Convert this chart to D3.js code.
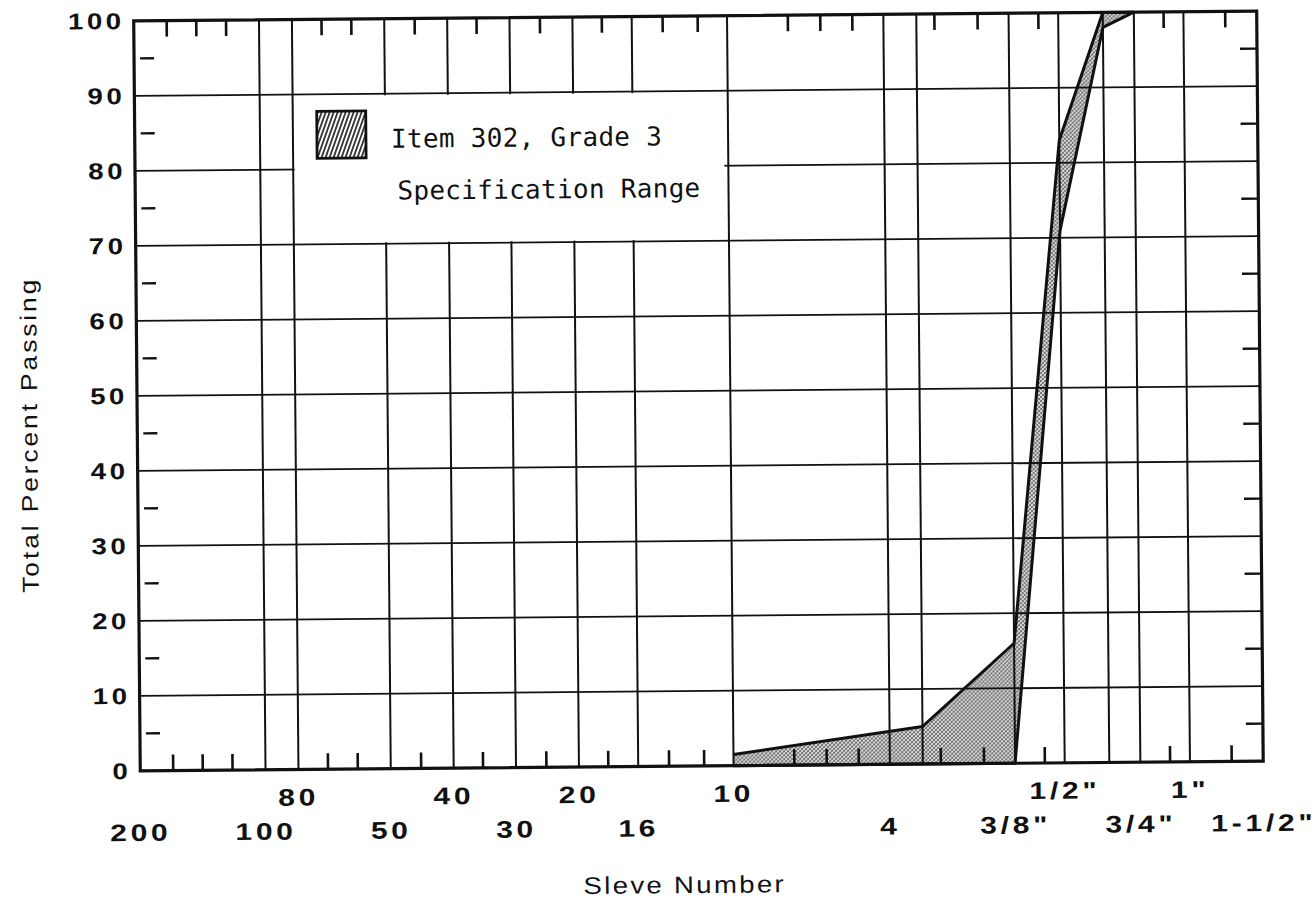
<!DOCTYPE html>
<html>
<head>
<meta charset="utf-8">
<script src="https://cdn.jsdelivr.net/npm/d3@7"></script>
<style>
  body { margin: 0; background: #fff; }
  svg { display: block; }
</style>
</head>
<body>
<div id="chart"></div>
<script>
// sieve openings in mm
var gridSizes = [0.15, 0.18, 0.3, 0.425, 0.6, 0.85, 1.18, 2.0, 4.75, 5.7, 9.5, 12.5, 16, 19, 25];
var minorSizes = [0.09, 0.106, 0.125, 0.212, 0.25, 0.355, 0.5, 0.71, 1.0, 1.4, 1.7, 2.8, 3.35, 4.0, 6.3, 8.0, 11.2, 22.4, 31.5];

// x tick labels, two staggered rows
var topRowLabels = ["80", "40", "20", "10", "1/2\"", "1\""];
var topRowSizes = [0.18, 0.425, 0.85, 2.0, 12.5, 25];
var bottomRowLabels = ["200", "100", "50", "30", "16", "4", "3/8\"", "3/4\"", "1-1/2\""];
var bottomRowSizes = [0.075, 0.15, 0.3, 0.6, 1.18, 4.75, 9.5, 19, 37.5];

// y ticks
var yTicks = [0, 10, 20, 30, 40, 50, 60, 70, 80, 90, 100];
var yMinor = [5, 15, 25, 35, 45, 55, 65, 75, 85, 95];

// Item 302, Grade 3 specification band
var bandSieve = ["#10", "1/4\"", "3/8\"", "1/2\"", "5/8\"", "3/4\""];
var bandSize = [2.0, 5.7, 9.5, 12.5, 16, 19];
var upperLimit = [1.5, 5, 16, 83, 100, 100];
var lowerLimit = [0, 0, 0, 71, 98, 100];

var W = 1315, H = 901;
var margin = { top: 16, right: 55, bottom: 135, left: 137 };
var width = W - margin.left - margin.right;
var height = H - margin.top - margin.bottom;

var svg = d3.select("#chart").append("svg")
  .attr("width", W)
  .attr("height", H);

svg.append("rect").attr("width", W).attr("height", H).attr("fill", "#fff");

var defs = svg.append("defs");

// fine crosshatch used for the band
var bandPat = defs.append("pattern")
  .attr("id", "bandHatch")
  .attr("patternUnits", "userSpaceOnUse")
  .attr("width", 4).attr("height", 4);
bandPat.append("rect").attr("width", 4).attr("height", 4).attr("fill", "#d8d8d8");
bandPat.append("path").attr("d", "M0,4 L4,0 M-1,1 L1,-1 M3,5 L5,3")
  .attr("stroke", "#444").attr("stroke-width", 0.8);
bandPat.append("path").attr("d", "M0,0 L4,4")
  .attr("stroke", "#666").attr("stroke-width", 0.7);

// steep diagonal hatch for the legend swatch
var legPat = defs.append("pattern")
  .attr("id", "legHatch")
  .attr("patternUnits", "userSpaceOnUse")
  .attr("width", 4).attr("height", 12)
  .attr("patternTransform", "skewX(-20)");
legPat.append("rect").attr("width", 4).attr("height", 12).attr("fill", "#fff");
legPat.append("line").attr("x1", 1).attr("x2", 1).attr("y1", 0).attr("y2", 12)
  .attr("stroke", "#222").attr("stroke-width", 1.8);

// the scan is slightly tilted
var g = svg.append("g")
  .attr("transform", "rotate(-0.5, 698, 395) translate(" + margin.left + "," + margin.top + ")");

var x = d3.scaleLog().domain([0.075, 37.5]).range([0, width]);
var y = d3.scaleLinear().domain([0, 100]).range([height, 0]);

// band fill
var area = d3.area()
  .x(function (d, i) { return x(bandSize[i]); })
  .y0(function (d, i) { return y(lowerLimit[i]); })
  .y1(function (d, i) { return y(upperLimit[i]); });

g.append("path")
  .attr("d", area(bandSize))
  .attr("fill", "url(#bandHatch)");

// grid
g.selectAll(".hgrid")
  .data(yTicks.slice(1, -1))
  .enter().append("line")
  .attr("x1", 0).attr("x2", width)
  .attr("y1", function (d) { return y(d); })
  .attr("y2", function (d) { return y(d); })
  .attr("stroke", "#111").attr("stroke-width", 1.8);

g.selectAll(".vgrid")
  .data(gridSizes)
  .enter().append("line")
  .attr("x1", function (d) { return x(d); })
  .attr("x2", function (d) { return x(d); })
  .attr("y1", 0).attr("y2", height)
  .attr("stroke", "#111").attr("stroke-width", 2);

// legend box sits on a white patch of the grid
g.append("rect")
  .attr("x", x(0.18) + 1.5)
  .attr("y", y(90) + 1.5)
  .attr("width", x(2.0) - 4 - x(0.18) - 1.5)
  .attr("height", y(70) - y(90) - 3)
  .attr("fill", "#fff");

g.append("rect")
  .attr("x", x(0.18) + 24)
  .attr("y", y(90) + 17)
  .attr("width", 49).attr("height", 47)
  .attr("fill", "url(#legHatch)")
  .attr("stroke", "#111").attr("stroke-width", 2.8);

g.append("text")
  .attr("x", x(0.18) + 98).attr("y", y(90) + 54)
  .style("font-family", "'DejaVu Sans Mono', monospace")
  .style("font-size", "26px")
  .style("letter-spacing", "0.3px")
  .attr("fill", "#111")
  .text("Item 302, Grade 3");

g.append("text")
  .attr("x", x(0.18) + 104).attr("y", y(90) + 106)
  .style("font-family", "'DejaVu Sans Mono', monospace")
  .style("font-size", "26px")
  .style("letter-spacing", "0.3px")
  .attr("fill", "#111")
  .text("Specification Range");

// minor ticks
g.selectAll(".mtop")
  .data(minorSizes)
  .enter().append("line")
  .attr("x1", function (d) { return x(d); })
  .attr("x2", function (d) { return x(d); })
  .attr("y1", 0).attr("y2", 16)
  .attr("stroke", "#111").attr("stroke-width", 2.6);

g.selectAll(".mbot")
  .data(minorSizes)
  .enter().append("line")
  .attr("x1", function (d) { return x(d); })
  .attr("x2", function (d) { return x(d); })
  .attr("y1", height).attr("y2", height - 16)
  .attr("stroke", "#111").attr("stroke-width", 2.6);

g.selectAll(".mleft")
  .data(yMinor)
  .enter().append("line")
  .attr("x1", 6).attr("x2", 20)
  .attr("y1", function (d) { return y(d); })
  .attr("y2", function (d) { return y(d); })
  .attr("stroke", "#111").attr("stroke-width", 2.4);

g.selectAll(".mright")
  .data(yMinor)
  .enter().append("line")
  .attr("x1", width - 17).attr("x2", width)
  .attr("y1", function (d) { return y(d); })
  .attr("y2", function (d) { return y(d); })
  .attr("stroke", "#111").attr("stroke-width", 2.4);

// frame
g.append("rect")
  .attr("x", 0).attr("y", 0)
  .attr("width", width).attr("height", height)
  .attr("fill", "none")
  .attr("stroke", "#111").attr("stroke-width", 3.2);

// band limits
var line = d3.line()
  .x(function (d) { return x(d[0]); })
  .y(function (d) { return y(d[1]); });

g.append("path")
  .attr("d", line(bandSize.map(function (s, i) { return [s, upperLimit[i]]; })))
  .attr("fill", "none").attr("stroke", "#111").attr("stroke-width", 3)
  .attr("stroke-linejoin", "round");

g.append("path")
  .attr("d", line(bandSize.map(function (s, i) { return [s, lowerLimit[i]]; })))
  .attr("fill", "none").attr("stroke", "#111").attr("stroke-width", 3)
  .attr("stroke-linejoin", "round");

// y tick labels
g.selectAll(".ylab")
  .data(yTicks)
  .enter().append("text")
  .attr("transform", function (d) {
    return "translate(-9," + (y(d) + 8) + ") scale(1.2,1)";
  })
  .attr("text-anchor", "end")
  .style("font-family", "'Liberation Sans', Arial, sans-serif")
  .style("font-size", "23px")
  .style("font-weight", "bold")
  .style("letter-spacing", "3px")
  .attr("fill", "#111")
  .text(function (d) { return d; });

// x tick labels
function xLabels(labels, sizes, yPos) {
  g.selectAll(null)
    .data(labels)
    .enter().append("text")
    .attr("transform", function (d, i) {
      return "translate(" + x(sizes[i]) + "," + yPos + ") scale(1.25,1)";
    })
    .attr("text-anchor", "middle")
    .style("font-family", "'Liberation Sans', Arial, sans-serif")
    .style("font-size", "24px")
    .style("font-weight", "bold")
    .style("letter-spacing", "3px")
    .attr("fill", "#111")
    .text(function (d) { return d; });
}
xLabels(topRowLabels, topRowSizes, height + 36);
xLabels(bottomRowLabels, bottomRowSizes, height + 70);

// axis titles
g.append("text")
  .attr("transform", "translate(" + (width / 2 - 18) + "," + (height + 127) + ") scale(1.15,1)")
  .attr("text-anchor", "middle")
  .style("font-family", "'Liberation Sans', Arial, sans-serif")
  .style("font-size", "24px")
  .style("letter-spacing", "2px")
  .attr("fill", "#111")
  .text("Sleve Number");

g.append("text")
  .attr("transform", "translate(-100," + (height / 2 + 38) + ") rotate(-90) scale(1.15,1)")
  .attr("text-anchor", "middle")
  .style("font-family", "'Liberation Sans', Arial, sans-serif")
  .style("font-size", "23px")
  .style("letter-spacing", "2.5px")
  .attr("fill", "#111")
  .text("Total Percent Passing");
</script>
</body>
</html>
